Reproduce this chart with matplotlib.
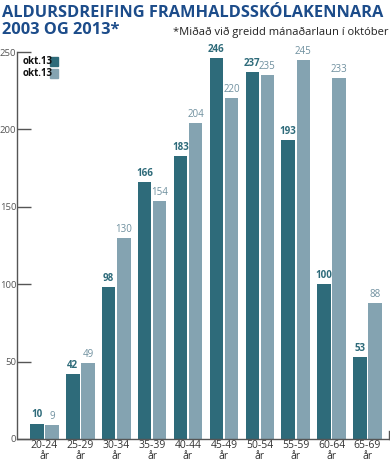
import numpy as np
import matplotlib.pyplot as plt
from matplotlib.patches import Rectangle

plt.rcParams['font.family'] = ['Open Sans', 'DejaVu Sans']

# data
groups = ['20-24', '25-29', '30-34', '35-39', '40-44', '45-49', '50-54', '55-59', '60-64', '65-69']
vals_dark = [10, 42, 98, 166, 183, 246, 237, 193, 100, 53]
vals_light = [9, 49, 130, 154, 204, 220, 235, 245, 233, 88]
legend_labels = ['okt.13', 'okt.13']

c_dark = '#2e6b7a'
c_light = '#84a3b1'
c_title = '#1c4c8a'
c_axis = '#555555'

fig = plt.figure(figsize=(3.9, 4.63), dpi=100)
ax = fig.add_axes([17/390, 1 - 439/463, 372/390, 387/463])

x = np.arange(len(groups))
w = 0.375
off = 0.21
ax.bar(x - off, vals_dark, w, color=c_dark)
ax.bar(x + off, vals_light, w, color=c_light)

for i in range(len(groups)):
    ax.text(x[i] - off, vals_dark[i] + 2, str(vals_dark[i]), ha='center', va='bottom',
            fontsize=7, fontweight='bold', color=c_dark)
    ax.text(x[i] + off, vals_light[i] + 2, str(vals_light[i]), ha='center', va='bottom',
            fontsize=7, color='#6f909f')

ax.set_xlim(-0.766, 9.6)
ax.set_ylim(0, 250)
ax.set_yticks([0, 50, 100, 150, 200, 250])
ax.set_xticks(x)
ax.set_xticklabels([g + '\når' for g in groups], fontsize=7.5, color='#333333', linespacing=1.0)
ax.tick_params(axis='x', length=0, pad=0.5)
ax.tick_params(axis='y', direction='in', length=10, width=1, color=c_axis,
               labelsize=6.8, labelcolor='#555555', pad=0.5)
for s in ['top', 'right']:
    ax.spines[s].set_visible(False)
ax.spines['left'].set_color(c_axis)
ax.spines['bottom'].set_color(c_axis)
ax.spines['left'].set_linewidth(1)
ax.spines['bottom'].set_linewidth(1)
# little end mark at right of baseline
ax.plot([1, 1], [0, 0.02], transform=ax.transAxes, color=c_axis, lw=1, clip_on=False)

# legend
for j, (lab, c) in enumerate(zip(legend_labels, [c_dark, c_light])):
    yy = 0.975 - j * 0.031
    ax.text(0.015, yy, lab, transform=ax.transAxes, fontsize=7, fontweight='bold',
            color='#111111', va='center', ha='left')
    ax.add_patch(Rectangle((0.09, yy - 0.011), 0.02, 0.022, transform=ax.transAxes,
                           color=c, clip_on=False))

fig.text(0.005, 0.99, 'ALDURSDREIFING FRAMHALDSSKÓLAKENNARA', fontsize=11.8,
         fontweight='bold', color=c_title, va='top', ha='left')
fig.text(0.005, 0.952, '2003 OG 2013*', fontsize=11.8,
         fontweight='bold', color=c_title, va='top', ha='left')
fig.text(0.995, 0.93, '*Miðað við greidd mánaðarlaun í október', fontsize=8,
         color='#222222', va='center', ha='right')

fig.savefig('out.png', dpi=100)
